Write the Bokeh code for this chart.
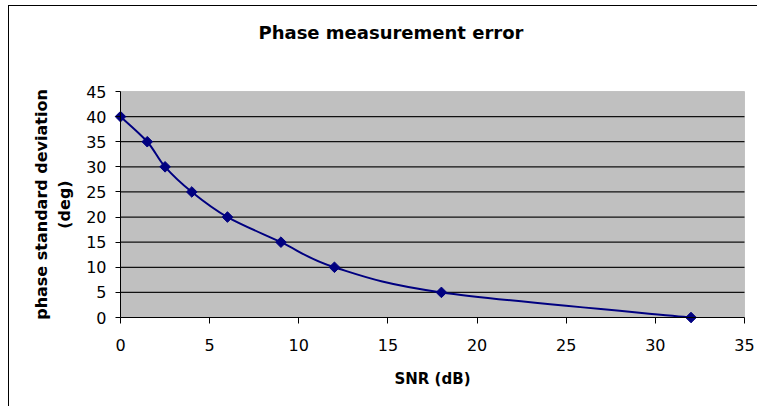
import numpy as np
from bokeh.plotting import figure
from bokeh.models import (FixedTicker, Range1d, Title, ColumnDataSource, BoxAnnotation,
                          LinearAxis)
from bokeh.embed import file_html
from bokeh.resources import INLINE

# ---- data ----
snr_db = [0, 1.5, 2.5, 4, 6, 9, 12, 18, 32]
phase_std = [40, 35, 30, 25, 20, 15, 10, 5, 0]
x_ticks = [0, 5, 10, 15, 20, 25, 30, 35]
y_ticks = [0, 5, 10, 15, 20, 25, 30, 35, 40, 45]
title_text = "Phase measurement error"
x_label = "SNR (dB)"
y_label = "phase standard deviation\n(deg)"

FONT = "DejaVu Sans"
NAVY = "#000080"
X0, X1 = x_ticks[0], x_ticks[-1]
Y0, Y1 = y_ticks[0], y_ticks[-1]

# layout (pixels): frame padded by 8 px around the plot area so edge markers are not cut
W, H = 749, 401
BL, BR, BT, BB = 103, 6, 77, 82
fw, fh = W - BL - BR, H - BT - BB
pad = 8.0
xpad = pad * (X1 - X0) / (fw - 2 * pad)
ypad = pad * (Y1 - Y0) / (fh - 2 * pad)

p = figure(width=W, height=H, output_backend="svg", toolbar_location=None,
           x_range=Range1d(X0 - xpad, X1 + xpad), y_range=Range1d(Y0 - ypad, Y1 + ypad),
           min_border_left=BL, min_border_right=BR, min_border_top=BT, min_border_bottom=BB)
p.styles = {"margin-left": "8px", "margin-top": "5px",
            "border-left": "1px solid black", "border-top": "1px solid black"}
p.background_fill_color = "white"
p.border_fill_color = "white"
p.outline_line_color = None
p.xgrid.visible = False
p.ygrid.visible = False

# grey plot area with grey border
p.add_layout(BoxAnnotation(left=X0, right=X1, bottom=Y0, top=Y1, fill_color="#C0C0C0",
                           fill_alpha=1, line_color="#808080", line_width=1, level="underlay"))
# horizontal gridlines
gy = y_ticks[1:-1]
p.segment(x0=[X0] * len(gy), x1=[X1] * len(gy), y0=gy, y1=gy, line_color="#111111", line_width=1.2)

# label-only axes at the frame edges
for ax in (p.xaxis[0], p.yaxis[0]):
    ax.axis_line_color = None
    ax.major_tick_line_color = None
    ax.minor_tick_line_color = None
    ax.major_tick_in = 0
    ax.major_tick_out = 0
    ax.major_label_text_font = FONT
    ax.major_label_text_font_size = "16px"
    ax.major_label_text_color = "black"
    ax.axis_label_text_font = FONT
    ax.axis_label_text_font_style = "bold"
    ax.axis_label_text_color = "black"

p.xaxis.ticker = FixedTicker(ticks=x_ticks)
p.yaxis.ticker = FixedTicker(ticks=y_ticks)
p.xaxis.major_label_standoff = 13
p.yaxis.major_label_standoff = 6
p.xaxis.axis_label = x_label
p.xaxis.axis_label_text_font_size = "15px"
p.xaxis.axis_label_standoff = 16
p.yaxis.axis_label = y_label
p.yaxis.axis_label_text_font_size = "16px"
p.yaxis.axis_label_standoff = 9

# axis lines + tick marks drawn at the data origin
ax_x = LinearAxis(fixed_location=Y0, bounds=(X0, X1), ticker=FixedTicker(ticks=x_ticks),
                  major_label_overrides={t: "" for t in x_ticks}, major_label_text_font_size="1px",
                  axis_line_color="black", major_tick_line_color="black",
                  minor_tick_line_color=None, major_tick_in=0, major_tick_out=6)
ax_y = LinearAxis(fixed_location=X0, bounds=(Y0, Y1), ticker=FixedTicker(ticks=y_ticks),
                  major_label_overrides={t: "" for t in y_ticks}, major_label_text_font_size="1px",
                  axis_line_color="black", major_tick_line_color="black",
                  minor_tick_line_color=None, major_tick_in=0, major_tick_out=5)
p.add_layout(ax_x, "below")
p.add_layout(ax_y, "left")

# smoothed curve (Catmull-Rom -> cubic Bezier) through the data points
xs = np.array(snr_db, dtype=float)
ys = np.array(phase_std, dtype=float)
xp = np.concatenate([[xs[0]], xs, [xs[-1]]])
yp = np.concatenate([[ys[0]], ys, [ys[-1]]])
n = len(xs)
seg = dict(x0=xs[:-1], y0=ys[:-1], x1=xs[1:], y1=ys[1:],
           cx0=xs[:-1] + (xp[2:n + 1] - xp[0:n - 1]) / 6.0,
           cy0=ys[:-1] + (yp[2:n + 1] - yp[0:n - 1]) / 6.0,
           cx1=xs[1:] - (xp[3:n + 2] - xp[1:n]) / 6.0,
           cy1=ys[1:] - (yp[3:n + 2] - yp[1:n]) / 6.0)
p.bezier(x0="x0", y0="y0", x1="x1", y1="y1", cx0="cx0", cy0="cy0", cx1="cx1", cy1="cy1",
         source=ColumnDataSource(seg), line_color=NAVY, line_width=2)

p.scatter(snr_db, phase_std, marker="square", angle=np.pi / 4, size=7.5,
          fill_color=NAVY, line_color=NAVY)

# spacer between frame and title, then the title itself
p.add_layout(Title(text=" ", text_font_size="1px", standoff=33), "above")
p.add_layout(Title(text=title_text, text_font=FONT, text_font_style="bold",
                   text_font_size="18px", text_color="black",
                   align="left", offset=138 + pad, standoff=10), "above")

open("out.html", "w").write(file_html(p, INLINE))
